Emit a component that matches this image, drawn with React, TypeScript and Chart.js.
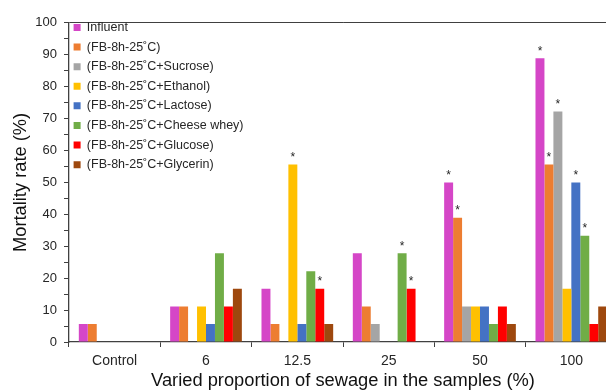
import React, { useEffect, useRef } from 'react';
import { Chart, registerables } from 'chart.js';

Chart.register(...registerables);

// ---- Data ----
const categories = ['Control', '6', '12.5', '25', '50', '100'];

const influent = [5.6, 11.1, 16.7, 27.8, 50.0, 88.9];
const fb25 = [5.6, 11.1, 5.6, 11.1, 38.9, 55.6];
const fbSucrose = [0, 0, 0, 5.6, 11.1, 72.2];
const fbEthanol = [0, 11.1, 55.6, 0, 11.1, 16.7];
const fbLactose = [0, 5.6, 5.6, 0, 11.1, 50.0];
const fbCheeseWhey = [0, 27.8, 22.2, 27.8, 5.6, 33.3];
const fbGlucose = [0, 11.1, 16.7, 16.7, 11.1, 5.6];
const fbGlycerin = [0, 16.7, 5.6, 0, 5.6, 11.1];

const seriesNames = [
  'Influent',
  '(FB-8h-25˚C)',
  '(FB-8h-25˚C+Sucrose)',
  '(FB-8h-25˚C+Ethanol)',
  '(FB-8h-25˚C+Lactose)',
  '(FB-8h-25˚C+Cheese whey)',
  '(FB-8h-25˚C+Glucose)',
  '(FB-8h-25˚C+Glycerin)',
];
const seriesValues = [influent, fb25, fbSucrose, fbEthanol, fbLactose, fbCheeseWhey, fbGlucose, fbGlycerin];
const seriesColors = ['#D546C7', '#ED7D31', '#A5A5A5', '#FFC000', '#4472C4', '#70AD47', '#FF0000', '#9E480E'];

// categories marked with an asterisk (significant), per series
const significant = [
  ['50', '100'],
  ['50', '100'],
  ['100'],
  ['12.5'],
  ['100'],
  ['25', '100'],
  ['12.5', '25'],
  [],
];

const yMin = 0;
const yMax = 100;
const yStep = 5;
const yLabelEvery = 10;

const xTitle = 'Varied proportion of sewage in the samples (%)';
const yTitle = 'Mortality rate (%)';

const FONT = "'Liberation Sans', Arial, sans-serif";
const AXIS = '#404040';
const TEXT = '#262626';

export default function App() {
  const ref = useRef<HTMLCanvasElement>(null);

  useEffect(() => {
    const canvas = ref.current;
    if (!canvas) return;

    const legendPlacer = {
      id: 'legendPlacer',
      afterLayout(chart: any) {
        const lg = chart.legend;
        if (!lg) return;
        const ca = chart.chartArea;
        lg.left = ca.left - 2.5;
        lg.top = ca.top - 8.7;
        lg.right = ca.right;
        lg.bottom = ca.bottom;
        lg.width = lg.right - lg.left;
        lg.height = lg.bottom - lg.top;
      },
    };

    const asterisks = {
      id: 'asterisks',
      afterDatasetsDraw(chart: any) {
        const ctx = chart.ctx;
        ctx.save();
        ctx.font = `12px ${FONT}`;
        ctx.fillStyle = TEXT;
        ctx.textAlign = 'center';
        ctx.textBaseline = 'middle';
        significant.forEach((cats, i) => {
          const meta = chart.getDatasetMeta(i);
          cats.forEach((c) => {
            const j = categories.indexOf(c);
            const el = meta.data[j];
            if (el) ctx.fillText('*', el.x, el.y - 7);
          });
        });
        ctx.restore();
      },
    };

    const chart = new Chart(canvas, {
      type: 'bar',
      data: {
        labels: categories,
        datasets: seriesValues.map((vals, i) => ({
          label: seriesNames[i],
          data: vals,
          backgroundColor: seriesColors[i],
          borderWidth: 0,
          categoryPercentage: 0.785,
          barPercentage: 1.0,
        })),
      },
      options: {
        responsive: false,
        animation: false,
        devicePixelRatio: 1,
        layout: { padding: { left: 0, top: 11, right: 6, bottom: 0 } },
        plugins: {
          legend: {
            position: 'chartArea' as any,
            align: 'start',
            labels: {
              boxWidth: 7,
              boxHeight: 7,
              padding: 7.1,
              color: TEXT,
              font: { family: FONT, size: 12.5 },
            },
          },
          tooltip: { enabled: false },
        },
        scales: {
          x: {
            offset: true,
            grid: {
              offset: true,
              drawOnChartArea: false,
              drawTicks: true,
              tickLength: 5,
              tickColor: AXIS,
            },
            border: { display: true, color: AXIS, width: 1.3 },
            ticks: {
              color: TEXT,
              font: { family: FONT, size: 14 },
              padding: 6,
              maxRotation: 0,
              autoSkip: false,
            },
            title: {
              display: true,
              text: xTitle,
              color: '#111',
              font: { family: FONT, size: 18.3 },
              padding: { top: 0, bottom: 0.5 },
            },
            afterFit: (scale: any) => {
              scale.height = 50;
            },
          },
          y: {
            min: yMin,
            max: yMax,
            grid: {
              drawOnChartArea: true,
              drawTicks: true,
              tickLength: 5,
              tickColor: AXIS,
              color: (ctx: any) => (ctx.tick && ctx.tick.value === yMax ? AXIS : 'rgba(0,0,0,0)'),
            },
            border: { display: true, color: AXIS, width: 1.3 },
            ticks: {
              stepSize: yStep,
              autoSkip: false,
              color: TEXT,
              font: { family: FONT, size: 13 },
              padding: 7,
              callback: (v: any) => (Number(v) % yLabelEvery === 0 ? String(v) : ''),
            },
            title: {
              display: true,
              text: yTitle,
              color: '#111',
              font: { family: FONT, size: 18.3 },
              padding: { top: 2, bottom: 0 },
            },
            afterFit: (scale: any) => {
              scale.width = 61;
            },
          },
        },
      },
      plugins: [legendPlacer, asterisks],
    });

    return () => chart.destroy();
  }, []);

  return (
    <div style={{ position: 'fixed', left: 8, top: 8, width: 598, height: 384, overflow: 'hidden' }}>
      <canvas ref={ref} width={615} height={384} style={{ display: 'block', width: 615, height: 384 }} />
    </div>
  );
}
